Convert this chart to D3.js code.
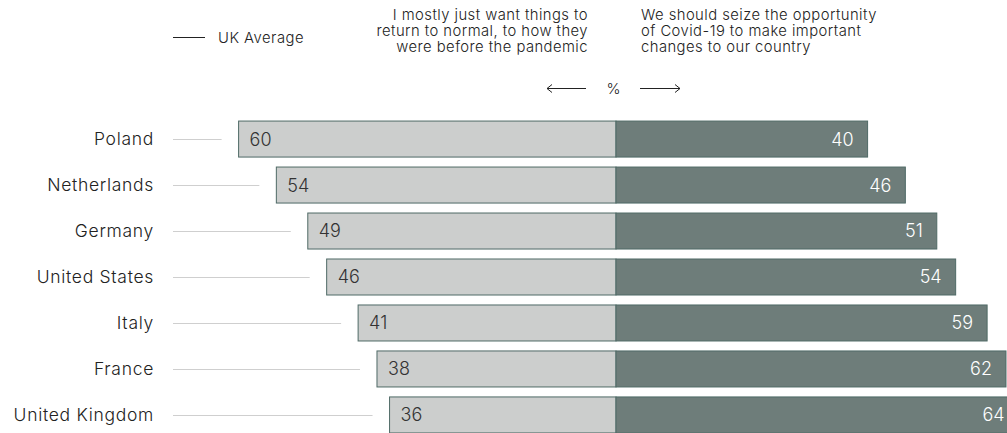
<!DOCTYPE html>
<html>
<head>
<meta charset="utf-8">
<script src="https://cdn.jsdelivr.net/npm/d3@7"></script>
<style>
  body { margin: 0; background: #fff; overflow: hidden; }
  svg { display: block; font-family: Inter, "Noto Sans", sans-serif; }
</style>
</head>
<body>
<div id="chart"></div>
<script>
const countries = ["Poland", "Netherlands", "Germany", "United States", "Italy", "France", "United Kingdom"];
const backToNormal = [60, 54, 49, 46, 41, 38, 36];
const seizeChance = [40, 46, 51, 54, 59, 62, 64];
const leftHeader = ["I mostly just want things to", "return to normal, to how they", "were before the pandemic"];
const rightHeader = ["We should seize the opportunity", "of Covid-19 to make important", "changes to our country"];

const width = 1007;
const height = 433;
const centerX = 616;

const svg = d3.select("#chart").append("svg")
  .attr("width", width)
  .attr("height", height);

const data = countries.map((c, i) => ({ country: c, left: backToNormal[i], right: seizeChance[i] }));

const yScale = d3.scaleBand().domain(countries).range([116, 438]).paddingInner(0.217).paddingOuter(0.11);
const xLeft = d3.scaleLinear().domain([0, 100]).range([centerX, centerX - 629]);
const xRight = d3.scaleLinear().domain([0, 100]).range([centerX, centerX + 629]);

// header
const header = svg.append("g").attr("font-size", 14.8).attr("letter-spacing", 0.45)
  .attr("fill", "#222").attr("font-weight", 350);
header.selectAll(".lh").data(leftHeader).enter().append("text")
  .attr("x", 588).attr("y", (d, i) => 20 + i * 16)
  .attr("text-anchor", "end").text(d => d);
header.selectAll(".rh").data(rightHeader).enter().append("text")
  .attr("x", 641).attr("y", (d, i) => 20 + i * 16)
  .attr("text-anchor", "start").text(d => d);

// legend
svg.append("line").attr("x1", 173).attr("x2", 205).attr("y1", 37.5).attr("y2", 37.5)
  .attr("stroke", "#222").attr("stroke-width", 1);
svg.append("text").attr("x", 218).attr("y", 42.5).attr("font-size", 14.8).attr("letter-spacing", 0.5)
  .attr("font-weight", 350).attr("fill", "#222").text("UK Average");

// % with arrows
const arrows = svg.append("g").attr("stroke", "#222").attr("fill", "none").attr("stroke-width", 1);
arrows.append("path").attr("d", "M586,88.5H547M552,84.5L547,88.5L552,92.5");
arrows.append("path").attr("d", "M640,88.5H680M675,84.5L680,88.5L675,92.5");
svg.append("text").attr("x", 613.5).attr("y", 94).attr("text-anchor", "middle")
  .attr("font-size", 15).attr("font-weight", 350).attr("fill", "#222").text("%");

const rows = svg.selectAll(".row").data(data).enter().append("g").attr("class", "row");

rows.append("text")
  .attr("x", 154)
  .attr("y", d => yScale(d.country) + yScale.bandwidth() / 2)
  .attr("dy", "0.35em")
  .attr("text-anchor", "end")
  .attr("font-size", 17.5)
  .attr("letter-spacing", 0.7)
  .attr("font-weight", 350)
  .attr("fill", "#222")
  .text(d => d.country);

rows.append("line")
  .attr("x1", 173)
  .attr("x2", d => xLeft(d.left) - 17)
  .attr("y1", d => Math.round(yScale(d.country) + yScale.bandwidth() / 2) + 0.5)
  .attr("y2", d => Math.round(yScale(d.country) + yScale.bandwidth() / 2) + 0.5)
  .attr("stroke", "#cfcfcf")
  .attr("stroke-width", 1);

rows.append("rect")
  .attr("x", d => xLeft(d.left))
  .attr("y", d => yScale(d.country))
  .attr("width", d => centerX - xLeft(d.left))
  .attr("height", yScale.bandwidth())
  .attr("fill", "#cccecd")
  .attr("stroke", "#4f6a66")
  .attr("stroke-width", 1);

rows.append("rect")
  .attr("x", centerX)
  .attr("y", d => yScale(d.country))
  .attr("width", d => xRight(d.right) - centerX)
  .attr("height", yScale.bandwidth())
  .attr("fill", "#6e7d7a")
  .attr("stroke", "#4f6a66")
  .attr("stroke-width", 1);

rows.append("text")
  .attr("x", d => xLeft(d.left) + 11)
  .attr("y", d => yScale(d.country) + yScale.bandwidth() / 2)
  .attr("dy", "0.36em")
  .attr("font-size", 18)
  .attr("font-weight", 350)
  .attr("fill", "#333")
  .text(d => d.left);

rows.append("text")
  .attr("x", d => xRight(d.right) - 14)
  .attr("y", d => yScale(d.country) + yScale.bandwidth() / 2)
  .attr("dy", "0.36em")
  .attr("text-anchor", "end")
  .attr("font-size", 18)
  .attr("font-weight", 350)
  .attr("fill", "#fff")
  .text(d => d.right);
</script>
</body>
</html>
